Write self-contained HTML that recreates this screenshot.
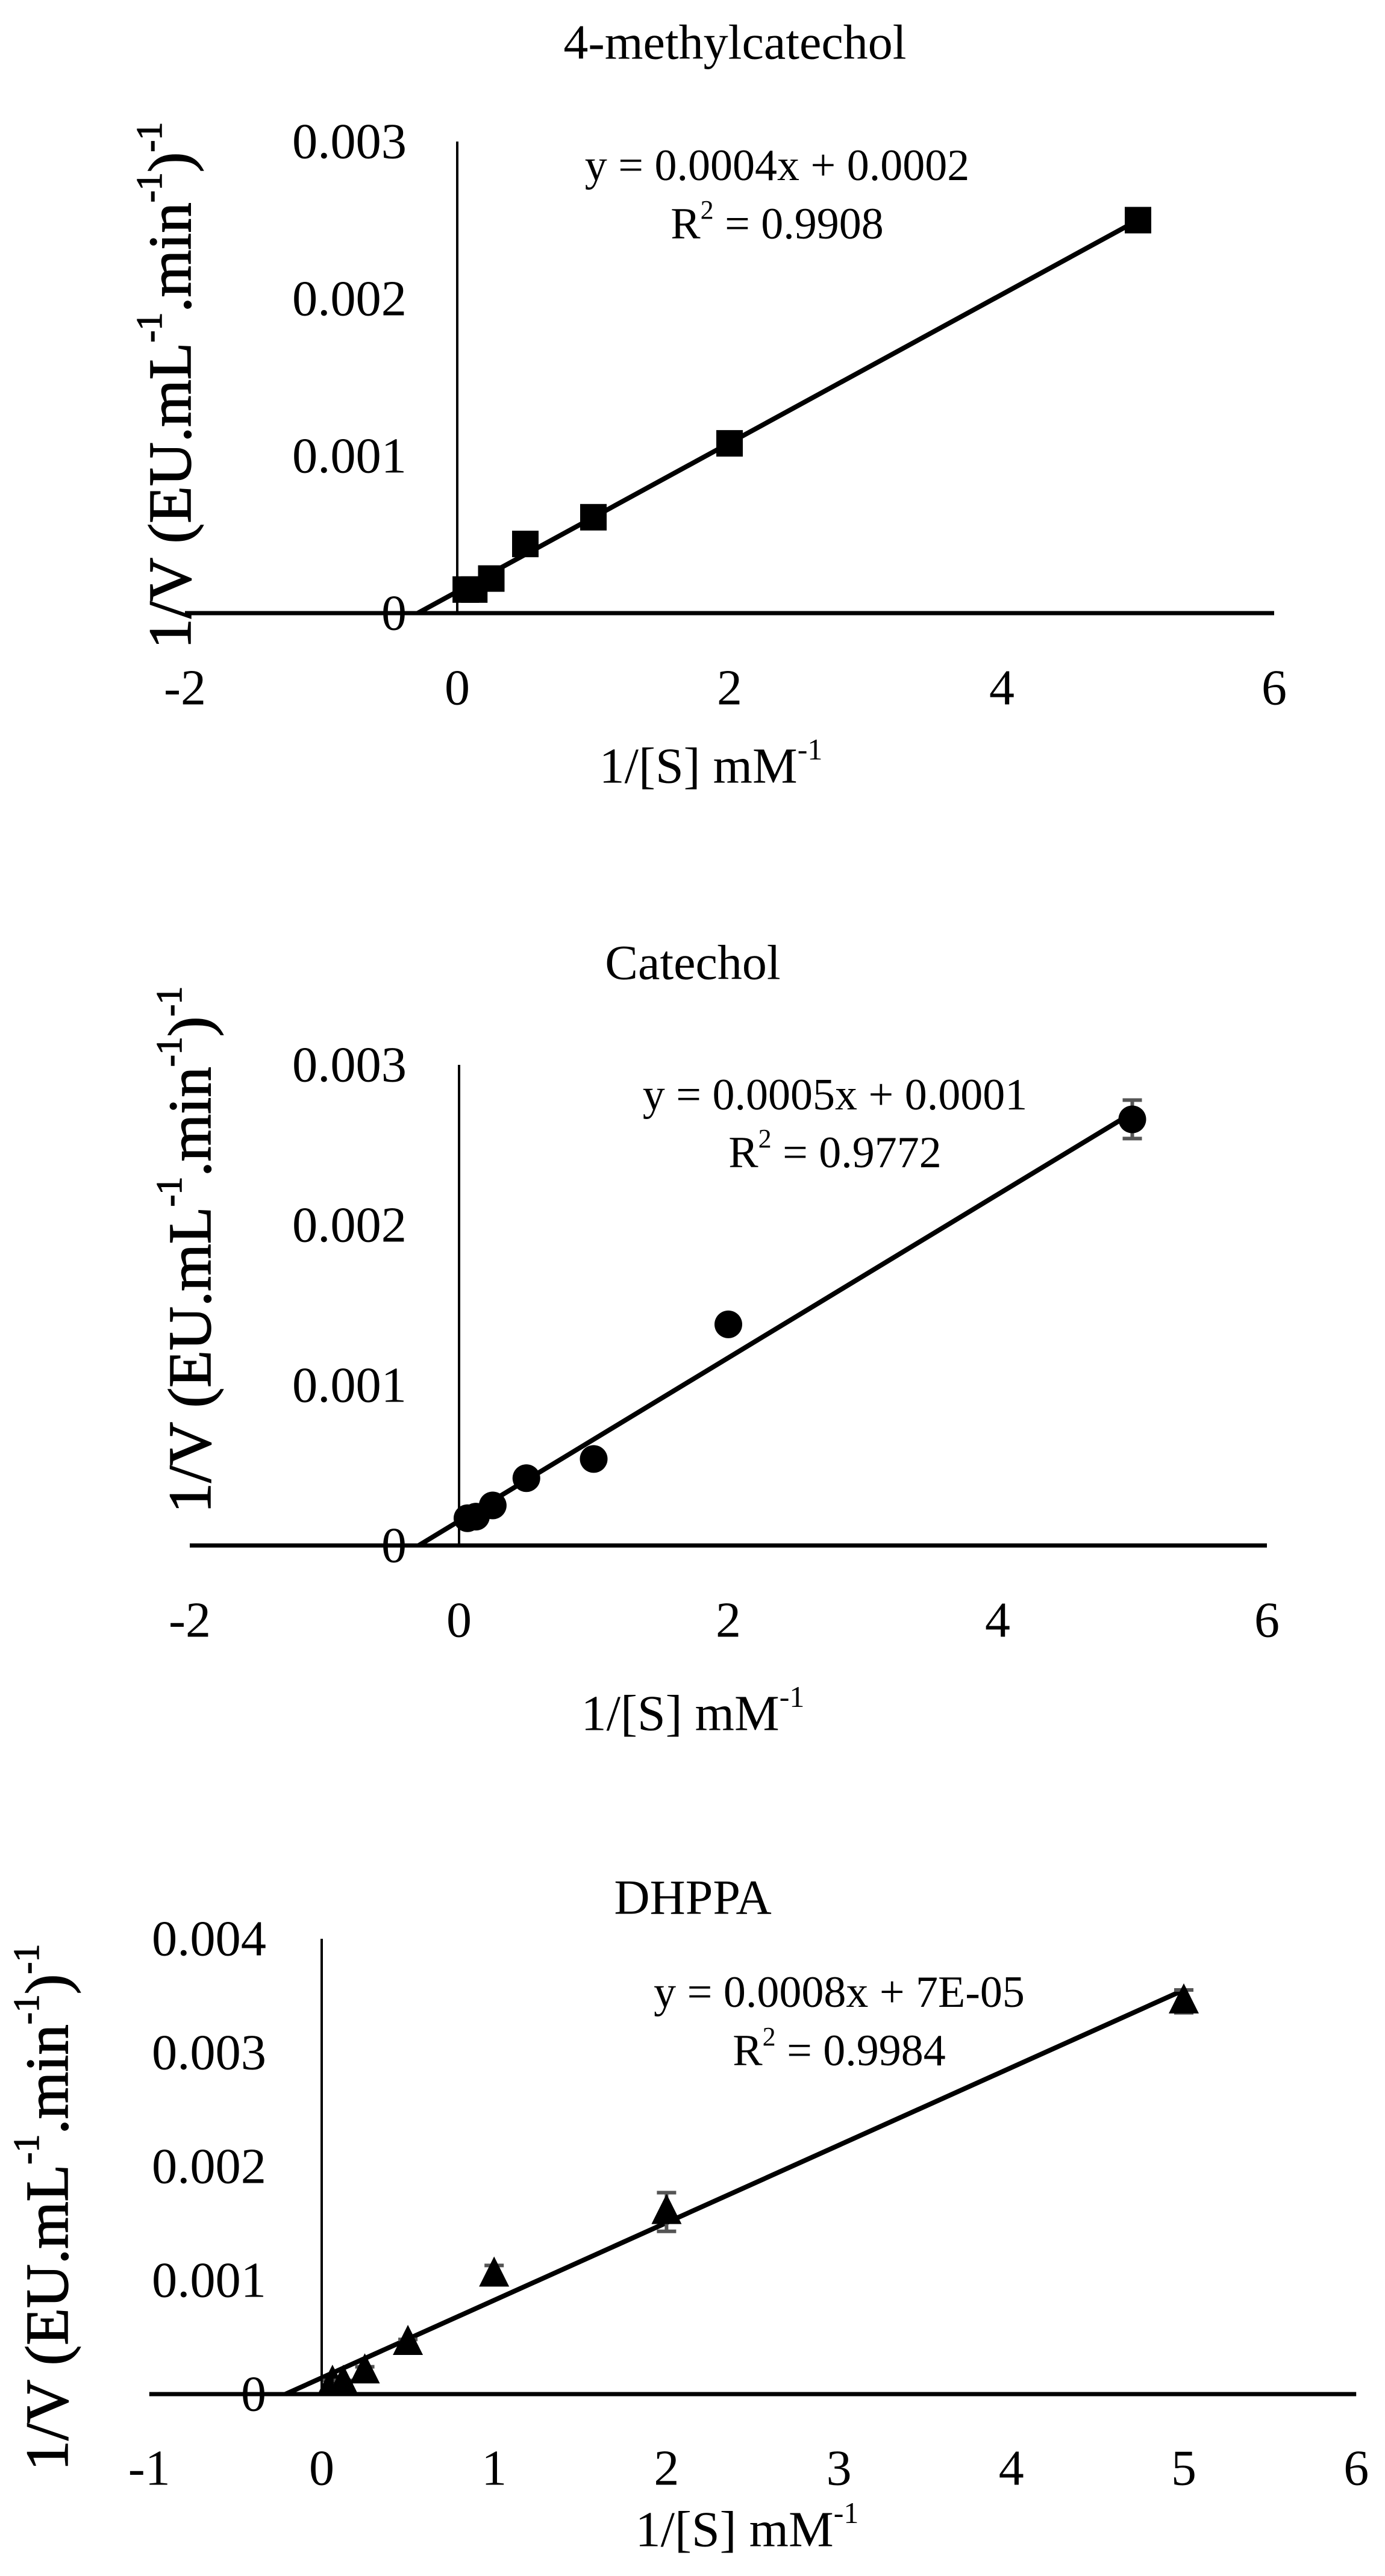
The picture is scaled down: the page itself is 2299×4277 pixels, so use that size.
<!DOCTYPE html>
<html><head><meta charset="utf-8"><style>
html,body{margin:0;padding:0;background:#fff;}
svg{display:block;font-family:"Liberation Serif",serif;}
</style></head>
<body>
<svg id="fig" width="2299" height="4277" viewBox="0 0 2299 4277" xmlns="http://www.w3.org/2000/svg"></svg>
<script>
// ---- Chart 1: 4-methylcatechol ----
const c1X = [0.0625, 0.125, 0.25, 0.5, 1, 2, 5];
const c1Y = [0.00015, 0.00015, 0.00022, 0.00044, 0.00061, 0.00108, 0.0025];
const c1Err = [0.00002, 0.00002, 0.00002, 0.00002, 0.00003, 0.00002, 0.00006];
const c1TrendX = [-0.29, 5];
const c1TrendY = [0, 0.0025];
const c1XTicks = [-2, 0, 2, 4, 6];
const c1YTicks = [0, 0.001, 0.002, 0.003];
const c1YLabels = ["0", "0.001", "0.002", "0.003"];
// ---- Chart 2: Catechol ----
const c2X = [0.0625, 0.125, 0.25, 0.5, 1, 2, 5];
const c2Y = [0.00017, 0.00018, 0.00025, 0.00042, 0.00054, 0.00138, 0.00266];
const c2Err = [0.00002, 0.00002, 0.00002, 0.00004, 0.00003, 0.00005, 0.00012];
const c2TrendX = [-0.3, 5];
const c2TrendY = [0, 0.0027];
const c2XTicks = [-2, 0, 2, 4, 6];
const c2YTicks = [0, 0.001, 0.002, 0.003];
const c2YLabels = ["0", "0.001", "0.002", "0.003"];
// ---- Chart 3: DHPPA ----
const c3X = [0.0625, 0.125, 0.25, 0.5, 1, 2, 5];
const c3Y = [0.0001, 0.0001, 0.0002, 0.00045, 0.00105, 0.0016, 0.00345];
const c3Err = [0.00002, 0.00002, 0.00004, 0.00003, 0.00008, 0.00017, 0.0001];
const c3TrendX = [-0.21, 5];
const c3TrendY = [0, 0.00355];
const c3XTicks = [-1, 0, 1, 2, 3, 4, 5, 6];
const c3YTicks = [0, 0.001, 0.002, 0.003, 0.004];
const c3YLabels = ["0", "0.001", "0.002", "0.003", "0.004"];

const NS = "http://www.w3.org/2000/svg";
const svg = document.getElementById("fig");
function mk(tag, attrs, parent){
  const e = document.createElementNS(NS, tag);
  for (const k in attrs) e.setAttribute(k, attrs[k]);
  (parent || svg).appendChild(e);
  return e;
}

function drawChart(o){
  const g = mk("g", {});
  
  
  const sx = v => o.x0px + v * o.pxPerX;
  const sy = v => o.y0px - v * o.pxPerY;

  const t = mk("text", {x: o.titleX, y: o.titleY, "text-anchor": "middle", "font-size": 82, "dominant-baseline": "central"}, g);
  t.textContent = o.title;
  
  

  const ya = mk("line", {x1: sx(0), x2: sx(0), y1: sy(o.yMax), y2: sy(0), stroke: "#000", "stroke-width": 4}, g);
  
  
  const xa = mk("line", {x1: sx(o.xTicks[0]), x2: sx(o.xTicks[o.xTicks.length-1]), y1: sy(0), y2: sy(0), stroke: "#000", "stroke-width": 7}, g);
  
  

  o.yTicks.forEach((v, i) => {
    const lab = o.yLabels[i];
    const el = mk("text", {x: o.yLabelRight, y: sy(v), "text-anchor": "end", "dominant-baseline": "central", "font-size": 84}, g);
    if (lab.length > 1) { el.setAttribute("textLength", 190); el.setAttribute("lengthAdjust", "spacingAndGlyphs"); }
    el.textContent = lab;
    
    
  });
  o.xTicks.forEach(v => {
    const el = mk("text", {x: sx(v), y: o.xLabelY, "text-anchor": "middle", "dominant-baseline": "central", "font-size": 84}, g);
    el.textContent = String(v);
    
    
  });

  const xt = mk("text", {x: o.xTitleX, y: o.xTitleY, "text-anchor": "middle", "dominant-baseline": "central", "font-size": 84}, g);
  xt.innerHTML = '1/[S] mM<tspan font-size="50" dy="-28">-1</tspan>';
  
  

  const yt = mk("text", {transform: `translate(${o.yTitleX},${o.yTitleY}) rotate(-90)`, "text-anchor": "middle", "dominant-baseline": "central", "font-size": 101, "stroke": "#000", "stroke-width": 1.5}, g);
  yt.innerHTML = '1/V (EU.mL<tspan font-size="60" dy="-34">-1</tspan><tspan dy="34">.min</tspan><tspan font-size="60" dy="-34">-1</tspan><tspan dy="34">)</tspan><tspan font-size="60" dy="-34">-1</tspan>';
  
  

  const eq = mk("text", {x: o.eqX, y: o.eqY, "text-anchor": "middle", "dominant-baseline": "central", "font-size": 74}, g);
  eq.textContent = o.eq;
  
  
  const r2 = mk("text", {x: o.eqX, y: o.r2Y, "text-anchor": "middle", "dominant-baseline": "central", "font-size": 74}, g);
  r2.innerHTML = 'R<tspan font-size="44" dy="-24">2</tspan><tspan dy="24"> = ' + o.r2 + '</tspan>';
  
  

  const tl = mk("line", {x1: sx(o.trendX[0]), y1: sy(o.trendY[0]), x2: sx(o.trendX[1]), y2: sy(o.trendY[1]), stroke: "#000", "stroke-width": 8}, g);
  
  

  o.xs.forEach((xv, i) => {
    const cx = sx(xv), cy = sy(o.ys[i]);
    const e = o.errs[i];
    const eb = mk("path", {d: `M${cx},${sy(o.ys[i]+e)}V${sy(o.ys[i]-e)}M${cx-16},${sy(o.ys[i]+e)}H${cx+16}M${cx-16},${sy(o.ys[i]-e)}H${cx+16}`, stroke: "#555", "stroke-width": 6, fill: "none"}, g);
    
    
    let m;
    if (o.marker === "square") m = mk("rect", {x: cx-22, y: cy-22, width: 44, height: 44, fill: "#000"}, g);
    else if (o.marker === "circle") m = mk("circle", {cx: cx, cy: cy, r: 23, fill: "#000"}, g);
    else m = mk("polygon", {points: `${cx},${cy-30} ${cx+25},${cy+20} ${cx-25},${cy+20}`, fill: "#000"}, g);
    
    
  });
}

drawChart({id: "4-methylcatechol", title: "4-methylcatechol", titleX: 1220, titleY: 70,
  x0px: 759, pxPerX: 226, y0px: 1018, pxPerY: 261000, yMax: 0.003,
  xTicks: c1XTicks, yTicks: c1YTicks, yLabels: c1YLabels, yLabelRight: 675, xLabelY: 1142,
  xTitleX: 1180, xTitleY: 1272, yTitleX: 282, yTitleY: 640,
  eq: "y = 0.0004x + 0.0002", r2: "0.9908", eqX: 1290, eqY: 275, r2Y: 372,
  trendX: c1TrendX, trendY: c1TrendY, xs: c1X, ys: c1Y, errs: c1Err, marker: "square"});

drawChart({id: "catechol", title: "Catechol", titleX: 1150, titleY: 1598,
  x0px: 762, pxPerX: 223.5, y0px: 2566, pxPerY: 266000, yMax: 0.003,
  xTicks: c2XTicks, yTicks: c2YTicks, yLabels: c2YLabels, yLabelRight: 675, xLabelY: 2690,
  xTitleX: 1150, xTitleY: 2845, yTitleX: 315, yTitleY: 2075,
  eq: "y = 0.0005x + 0.0001", r2: "0.9772", eqX: 1386, eqY: 1818, r2Y: 1914,
  trendX: c2TrendX, trendY: c2TrendY, xs: c2X, ys: c2Y, errs: c2Err, marker: "circle"});

drawChart({id: "dhppa", title: "DHPPA", titleX: 1150, titleY: 3150,
  x0px: 534, pxPerX: 286.2, y0px: 3975, pxPerY: 189000, yMax: 0.004,
  xTicks: c3XTicks, yTicks: c3YTicks, yLabels: c3YLabels, yLabelRight: 442, xLabelY: 4098,
  xTitleX: 1240, xTitleY: 4200, yTitleX: 78, yTitleY: 3665,
  eq: "y = 0.0008x + 7E-05", r2: "0.9984", eqX: 1393, eqY: 3308, r2Y: 3405,
  trendX: c3TrendX, trendY: c3TrendY, xs: c3X, ys: c3Y, errs: c3Err, marker: "triangle"});
</script>
</body></html>
